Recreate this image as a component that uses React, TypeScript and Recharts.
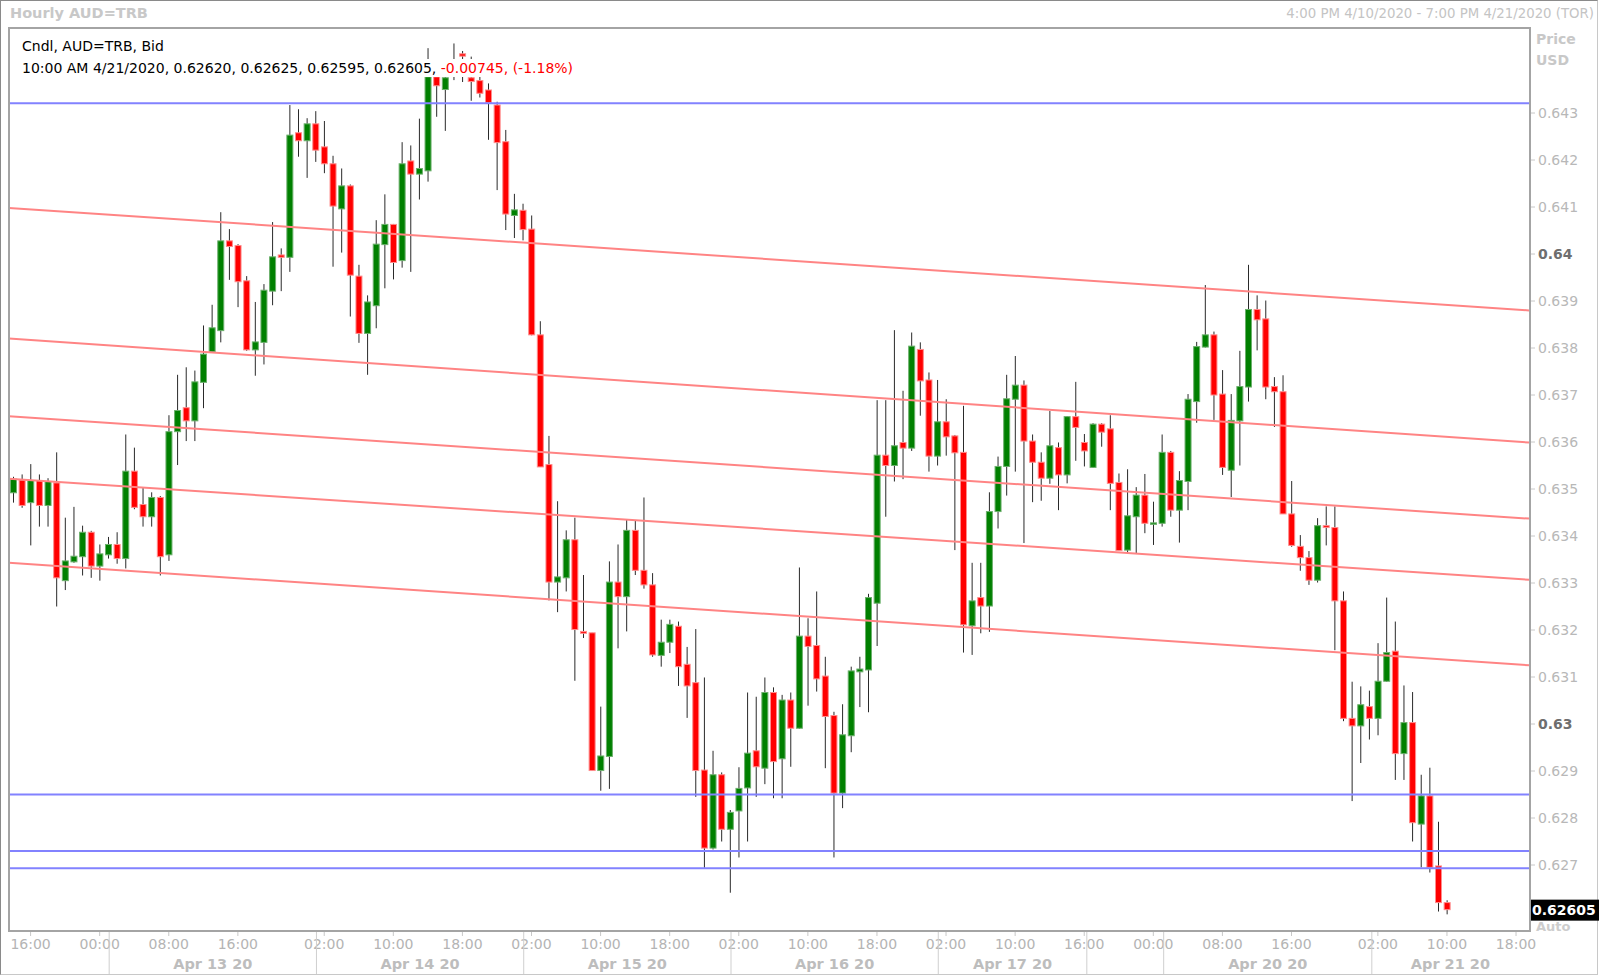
import React from "react";
import { ComposedChart, Bar, XAxis, YAxis, ReferenceLine } from "recharts";

// hourly AUD=TRB bid candles, index 0 = first bar on the left
const opens = [
  0.63492, 0.63519, 0.63471, 0.63518, 0.63465, 0.63513, 0.63305, 0.63345, 0.63356, 0.63408,
  0.63336, 0.6336, 0.63382, 0.63352, 0.63538, 0.63467, 0.63441, 0.63482, 0.6336, 0.63622,
  0.63673, 0.63645, 0.63727, 0.63792, 0.63837, 0.64028, 0.64018, 0.63943, 0.63796, 0.63812,
  0.63921, 0.63998, 0.63993, 0.64258, 0.64241, 0.64277, 0.64228, 0.64192, 0.64096, 0.64145,
  0.63953, 0.63831, 0.6389, 0.6402, 0.64063, 0.63986, 0.64198, 0.6417, 0.64177, 0.64377,
  0.6435, 0.64379, 0.64426, 0.64375, 0.64369, 0.64349, 0.64317, 0.64239, 0.64082, 0.64093,
  0.64053, 0.63828, 0.63552, 0.63302, 0.63311, 0.63392, 0.63197, 0.63194, 0.62901, 0.62931,
  0.63302, 0.63271, 0.63412, 0.63327, 0.63296, 0.63146, 0.63174, 0.63208, 0.63127, 0.63088,
  0.62902, 0.62736, 0.62892, 0.62776, 0.62815, 0.62864, 0.62943, 0.62906, 0.63067, 0.62926,
  0.63051, 0.62991, 0.63187, 0.63167, 0.63102, 0.63018, 0.62853, 0.62975, 0.63111, 0.63115,
  0.63257, 0.63572, 0.6355, 0.63599, 0.63587, 0.63797, 0.63732, 0.6357, 0.63643, 0.63613,
  0.63578, 0.63209, 0.63269, 0.63251, 0.63452, 0.63548, 0.63691, 0.63721, 0.63602, 0.63557,
  0.63523, 0.63588, 0.6353, 0.63654, 0.63599, 0.63546, 0.63638, 0.63628, 0.63514, 0.6337,
  0.63441, 0.63487, 0.63427, 0.63427, 0.63578, 0.63455, 0.63516, 0.63686, 0.63802, 0.63828,
  0.63702, 0.6354, 0.63645, 0.63717, 0.63882, 0.63862, 0.63718, 0.63707, 0.63447, 0.63378,
  0.63354, 0.63306, 0.63422, 0.63418, 0.63262, 0.63012, 0.62996, 0.63037, 0.63012, 0.63091,
  0.63155, 0.62937, 0.63003, 0.62787, 0.62847, 0.62698, 0.6262,
];
const highs = [
  0.63526, 0.63531, 0.63553, 0.63531, 0.63523, 0.63578, 0.63439, 0.63462, 0.63422, 0.63411,
  0.63382, 0.63398, 0.63408, 0.63616, 0.63588, 0.63504, 0.63493, 0.63485, 0.63657, 0.63743,
  0.63759, 0.63752, 0.63848, 0.63892, 0.64089, 0.64053, 0.64021, 0.63953, 0.63898, 0.63936,
  0.64068, 0.64012, 0.64317, 0.64308, 0.64289, 0.64304, 0.64283, 0.64209, 0.64182, 0.64148,
  0.63977, 0.63912, 0.64072, 0.64127, 0.64064, 0.64238, 0.64231, 0.64288, 0.64438, 0.64406,
  0.64392, 0.64448, 0.64432, 0.6442, 0.64385, 0.64363, 0.64324, 0.64264, 0.64128, 0.64107,
  0.64082, 0.63857, 0.63613, 0.63474, 0.63412, 0.63439, 0.63317, 0.63194, 0.63037, 0.63346,
  0.63382, 0.63434, 0.63434, 0.63482, 0.63321, 0.63222, 0.63222, 0.63218, 0.63164, 0.63202,
  0.63099, 0.62943, 0.62897, 0.62817, 0.62908, 0.63067, 0.63058, 0.63099, 0.63078, 0.63062,
  0.63067, 0.63333, 0.63225, 0.63282, 0.63143, 0.63026, 0.63042, 0.63122, 0.63143, 0.63277,
  0.63689, 0.63689, 0.63838, 0.63709, 0.63833, 0.63812, 0.63748, 0.63732, 0.63691, 0.63615,
  0.63677, 0.63343, 0.63343, 0.63493, 0.63569, 0.63743, 0.63783, 0.63731, 0.63616, 0.63578,
  0.63666, 0.63599, 0.63655, 0.63728, 0.63617, 0.6364, 0.6364, 0.63657, 0.63533, 0.63542,
  0.63504, 0.63532, 0.63473, 0.63616, 0.63581, 0.63538, 0.63702, 0.63813, 0.63934, 0.63835,
  0.63753, 0.63702, 0.63794, 0.63977, 0.63912, 0.63901, 0.63738, 0.63742, 0.63517, 0.63402,
  0.63368, 0.63438, 0.63463, 0.63463, 0.63282, 0.6309, 0.6308, 0.63071, 0.63172, 0.63269,
  0.63218, 0.63082, 0.63068, 0.62892, 0.62907, 0.62792, 0.62625,
];
const lows = [
  0.63471, 0.6346, 0.6338, 0.6342, 0.6342, 0.6325, 0.63285, 0.63343, 0.63316, 0.63311,
  0.63305, 0.63352, 0.63341, 0.63331, 0.63457, 0.6342, 0.6342, 0.63316, 0.63347, 0.63551,
  0.63602, 0.63602, 0.63672, 0.63791, 0.63812, 0.63945, 0.63887, 0.63794, 0.63741, 0.63765,
  0.63891, 0.63921, 0.63962, 0.64207, 0.64162, 0.64196, 0.64172, 0.63973, 0.64003, 0.63867,
  0.63811, 0.63743, 0.63842, 0.63927, 0.63946, 0.63971, 0.63962, 0.64116, 0.64154, 0.64292,
  0.64262, 0.6437, 0.64366, 0.64326, 0.64333, 0.64243, 0.64136, 0.64051, 0.64034, 0.64029,
  0.63827, 0.63547, 0.63263, 0.63238, 0.63282, 0.63092, 0.63183, 0.629, 0.62858, 0.62862,
  0.63161, 0.63197, 0.63317, 0.63288, 0.63143, 0.63122, 0.63151, 0.63081, 0.63013, 0.62845,
  0.62694, 0.62733, 0.6275, 0.62641, 0.62716, 0.6275, 0.62845, 0.62872, 0.62842, 0.62842,
  0.62909, 0.6299, 0.63039, 0.63069, 0.62906, 0.62716, 0.62821, 0.6294, 0.63036, 0.63025,
  0.63166, 0.63441, 0.63516, 0.63521, 0.63581, 0.63656, 0.63537, 0.6355, 0.63571, 0.6337,
  0.63152, 0.63147, 0.63193, 0.63196, 0.63416, 0.63486, 0.63537, 0.63385, 0.63472, 0.63475,
  0.63511, 0.63455, 0.63512, 0.6356, 0.63548, 0.63545, 0.6359, 0.63455, 0.63368, 0.63363,
  0.63363, 0.63406, 0.63381, 0.6342, 0.63441, 0.63386, 0.63455, 0.63641, 0.63801, 0.63647,
  0.6353, 0.63483, 0.6355, 0.63686, 0.63795, 0.63691, 0.63632, 0.63447, 0.63377, 0.63326,
  0.63296, 0.63301, 0.6338, 0.63157, 0.63006, 0.62836, 0.62917, 0.62967, 0.62976, 0.6309,
  0.62881, 0.62881, 0.6275, 0.62695, 0.62684, 0.62601, 0.62595,
];
const closes = [
  0.63521, 0.63465, 0.63518, 0.63465, 0.63516, 0.63311, 0.63347, 0.63357, 0.63408, 0.63336,
  0.63362, 0.63382, 0.63352, 0.63538, 0.63461, 0.63441, 0.63482, 0.63356, 0.63622, 0.63667,
  0.63645, 0.63728, 0.63787, 0.63843, 0.64028, 0.64016, 0.63941, 0.63796, 0.63813, 0.63923,
  0.63994, 0.63993, 0.64253, 0.64241, 0.64277, 0.64221, 0.64192, 0.64102, 0.64145, 0.63955,
  0.63831, 0.63898, 0.64021, 0.64063, 0.63982, 0.64192, 0.6417, 0.64182, 0.64377, 0.64358,
  0.64375, 0.64404, 0.64421, 0.64367, 0.64342, 0.64322, 0.64237, 0.64085, 0.64094, 0.64052,
  0.63828, 0.63547, 0.63302, 0.63313, 0.63392, 0.63201, 0.63193, 0.62901, 0.62932, 0.63302,
  0.63271, 0.63412, 0.63327, 0.63296, 0.63147, 0.63174, 0.63212, 0.63122, 0.63081, 0.62901,
  0.62736, 0.62892, 0.62776, 0.62812, 0.62863, 0.62938, 0.62909, 0.63067, 0.6292, 0.63051,
  0.62991, 0.63187, 0.63165, 0.63096, 0.63016, 0.62853, 0.62977, 0.63113, 0.63117, 0.63269,
  0.63572, 0.6355, 0.63592, 0.63587, 0.63804, 0.6373, 0.6357, 0.63643, 0.63611, 0.63577,
  0.63211, 0.63262, 0.63251, 0.63452, 0.63548, 0.63692, 0.63721, 0.63602, 0.63557, 0.63523,
  0.63592, 0.6353, 0.63654, 0.63631, 0.63581, 0.63638, 0.63621, 0.63512, 0.63369, 0.63443,
  0.63487, 0.63427, 0.63428, 0.63578, 0.63455, 0.63518, 0.63691, 0.63803, 0.63828, 0.637,
  0.63546, 0.63646, 0.63718, 0.63882, 0.6386, 0.63717, 0.63707, 0.63447, 0.6338, 0.63354,
  0.63306, 0.63422, 0.63418, 0.63262, 0.63012, 0.62996, 0.63041, 0.63012, 0.63091, 0.63152,
  0.62937, 0.63003, 0.6279, 0.62847, 0.62695, 0.6262, 0.62605,
];

// bottom axis
const timeTickIdx = [2, 10, 18, 26, 36, 44, 52, 60, 68, 76, 84, 92, 100, 108, 116, 124, 132, 140, 148, 158, 166, 174];
const timeTickLabels = [
  "16:00", "00:00", "08:00", "16:00", "02:00", "10:00", "18:00", "02:00", "10:00", "18:00", "02:00",
  "10:00", "18:00", "02:00", "10:00", "16:00", "00:00", "08:00", "16:00", "02:00", "10:00", "18:00",
];
const dayBounds = [11.1, 35.1, 59.1, 83.1, 107.1, 124.3, 133.2, 157.3, 175.5];
const dayLabels = ["Apr 13 20", "Apr 14 20", "Apr 15 20", "Apr 16 20", "Apr 17 20", "", "Apr 20 20", "Apr 21 20"];

// price axis + drawn lines
const yTicks = [0.627, 0.628, 0.629, 0.63, 0.631, 0.632, 0.633, 0.634, 0.635, 0.636, 0.637, 0.638, 0.639, 0.64, 0.641, 0.642, 0.643];
const hLines = [0.64321, 0.6285, 0.6273, 0.62693];
const channelLeft = [0.64098, 0.6382, 0.63655, 0.63522, 0.63343];
const channelRight = [0.6388, 0.63599, 0.63437, 0.63307, 0.63125];

const lastChange = "-0.00745";
const lastChangePct = "(-1.18%)";
const lastTime = "10:00 AM 4/21/2020";

const W = 1600;
const H = 978;
const PLOT_L = 9;
const PLOT_T = 28;
const PLOT_R = 1529;
const PLOT_B = 930;
const X_DOMAIN: [number, number] = [-0.5, 175.5];
const Y_DOMAIN: [number, number] = [0.625617, 0.644809];
const FONT = "'DejaVu Sans', Verdana, sans-serif";

const candles = opens.map((o, i) => ({
  i,
  o,
  h: highs[i],
  l: lows[i],
  c: closes[i],
  range: [lows[i], highs[i]],
}));

const dayCenters = dayLabels
  .map((d, k) => ({ d, v: (dayBounds[k] + dayBounds[k + 1]) / 2 }))
  .filter((e) => e.d !== "");
const dividerVals = dayBounds.slice(0, -1);
const xTicks = [...timeTickIdx, ...dividerVals, ...dayCenters.map((e) => e.v)];

function Candle(props: any) {
  const { x, y, width, height, payload } = props;
  if (x == null || y == null || !payload) return null;
  const { o, h, l, c } = payload;
  const top = height >= 0 ? y : y + height;
  const hh = Math.abs(height);
  const k = h - l > 0 ? hh / (h - l) : 0;
  const cx = x + width / 2;
  const yo = top + (h - o) * k;
  const yc = top + (h - c) * k;
  const up = c >= o;
  const bTop = Math.min(yo, yc);
  const bh = Math.max(Math.abs(yc - yo), 1.5);
  return (
    <g>
      <line x1={cx} x2={cx} y1={top} y2={top + hh} stroke="#2a2a2a" strokeWidth={1} />
      <rect
        x={cx - 3}
        y={bTop}
        width={6}
        height={bh}
        fill={up ? "#008000" : "#ff0000"}
        stroke={up ? "#6cb06c" : "#ff8c8c"}
        strokeWidth={1}
      />
    </g>
  );
}

function XTick(props: any) {
  const { x, payload } = props;
  const v = payload.value;
  const ti = timeTickIdx.indexOf(v);
  if (ti >= 0) {
    return (
      <g>
        <line x1={x} x2={x} y1={PLOT_B + 2} y2={PLOT_B + 6} stroke="#c8c8c8" />
        <text x={x} y={PLOT_B + 19} textAnchor="middle" fill="#b4b4b4" fontSize={14} fontFamily={FONT}>
          {timeTickLabels[ti]}
        </text>
      </g>
    );
  }
  if (dividerVals.indexOf(v) >= 0) {
    return <line x1={x} x2={x} y1={PLOT_B + 2} y2={H - 4} stroke="#cfcfcf" />;
  }
  const di = dayCenters.findIndex((e) => e.v === v);
  if (di >= 0) {
    return (
      <text x={x} y={PLOT_B + 39} textAnchor="middle" fill="#bdbdbd" fontSize={14.5} fontWeight="bold" fontFamily={FONT}>
        {dayCenters[di].d}
      </text>
    );
  }
  return null;
}

function YTick(props: any) {
  const { y, payload } = props;
  const label = String(Number(payload.value.toFixed(3)));
  const major = label.length === 4;
  return (
    <g>
      <line x1={PLOT_R + 1} x2={PLOT_R + 6} y1={y} y2={y} stroke="#c8c8c8" />
      <text
        x={PLOT_R + 9}
        y={y + 5}
        fill={major ? "#6e6e6e" : "#b8b8b8"}
        fontSize={14}
        fontWeight={major ? "bold" : "normal"}
        fontFamily={FONT}
      >
        {label}
      </text>
    </g>
  );
}

function PriceTag(props: any) {
  const vb = props.viewBox || {};
  const x = (vb.x || 0) + (vb.width || 0) + 1;
  const y = vb.y || 0;
  return (
    <g>
      <rect x={x} y={y - 10} width={W - x - 1} height={21} fill="#000" />
      <text x={x + 2} y={y + 5} fill="#fff" fontSize={14} fontWeight="bold" fontFamily={FONT}>
        {closes[closes.length - 1].toFixed(5)}
      </text>
    </g>
  );
}

export default function App() {
  const n = candles.length - 1;
  const infoLine = `${lastTime}, ${opens[n].toFixed(5)}, ${highs[n].toFixed(5)}, ${lows[n].toFixed(5)}, ${closes[n].toFixed(5)}, `;
  return (
    <div
      style={{
        position: "relative",
        width: W,
        height: H,
        background: "#fff",
        fontFamily: FONT,
        overflow: "hidden",
      }}
    >
      <style>{`body{margin:0;}`}</style>
      <div
        style={{
          position: "absolute",
          left: 0,
          top: 0,
          width: W - 2,
          height: H - 3,
          borderTop: "1px solid #8a8a8a",
          borderLeft: "1px solid #8a8a8a",
          borderRight: "1px solid #c8c8c8",
          borderBottom: "1px solid #c8c8c8",
          boxSizing: "border-box",
        }}
      />
      <div style={{ position: "absolute", left: 10, top: 5, fontSize: 14.5, fontWeight: "bold", color: "#c8c8c8" }}>
        Hourly AUD=TRB
      </div>
      <div style={{ position: "absolute", right: 6, top: 6, fontSize: 13.3, color: "#c4c4c4" }}>
        4:00 PM 4/10/2020 - 7:00 PM 4/21/2020 (TOR)
      </div>
      <div style={{ position: "absolute", left: PLOT_R + 7, top: 29, fontSize: 14, fontWeight: "bold", color: "#c8c8c8", lineHeight: "21px" }}>
        Price
        <br />
        USD
      </div>
      <div style={{ position: "absolute", left: PLOT_R + 7, top: 920, fontSize: 13, lineHeight: "13px", fontWeight: "bold", color: "#cdcdcd" }}>
        Auto
      </div>
      <div style={{ position: "absolute", left: 0, top: 0 }}>
        <ComposedChart
          width={W}
          height={H}
          data={candles}
          margin={{ top: PLOT_T, left: PLOT_L, right: 0, bottom: 0 }}
        >
          <XAxis
            dataKey="i"
            type="number"
            domain={X_DOMAIN}
            allowDataOverflow
            ticks={xTicks}
            interval={0}
            tick={<XTick />}
            tickLine={false}
            axisLine={false}
            height={H - PLOT_B}
          />
          <YAxis
            orientation="right"
            type="number"
            domain={Y_DOMAIN}
            allowDataOverflow
            ticks={yTicks}
            interval={0}
            tick={<YTick />}
            tickLine={false}
            axisLine={false}
            width={W - PLOT_R}
          />
          <Bar dataKey="range" barSize={7} shape={<Candle />} isAnimationActive={false} />
          {channelLeft.map((p, k) => (
            <ReferenceLine
              key={"ch" + k}
              segment={[
                { x: X_DOMAIN[0], y: p },
                { x: X_DOMAIN[1], y: channelRight[k] },
              ]}
              stroke="#ff8484"
              strokeWidth={2}
            />
          ))}
          {hLines.map((p, k) => (
            <ReferenceLine key={"h" + k} y={p} stroke="#8282ff" strokeWidth={2} />
          ))}
          <ReferenceLine y={closes[n]} stroke="none" label={(p: any) => <PriceTag {...p} />} />
        </ComposedChart>
      </div>
      <div
        style={{
          position: "absolute",
          left: PLOT_L - 1,
          top: PLOT_T - 1,
          width: PLOT_R - PLOT_L + 3,
          height: PLOT_B - PLOT_T + 3,
          border: "2px solid #a4a4a4",
          boxSizing: "border-box",
          pointerEvents: "none",
        }}
      />
      <div style={{ position: "absolute", left: 20, top: 38, fontSize: 14, color: "#000", background: "#fff", padding: "0 2px", lineHeight: "17px" }}>
        Cndl, AUD=TRB, Bid
      </div>
      <div style={{ position: "absolute", left: 20, top: 59, fontSize: 14, color: "#000", background: "#fff", padding: "0 2px", lineHeight: "18px", whiteSpace: "nowrap" }}>
        {infoLine}
        <span style={{ color: "#ff0000" }}>
          {lastChange}, {lastChangePct}
        </span>
      </div>
    </div>
  );
}
